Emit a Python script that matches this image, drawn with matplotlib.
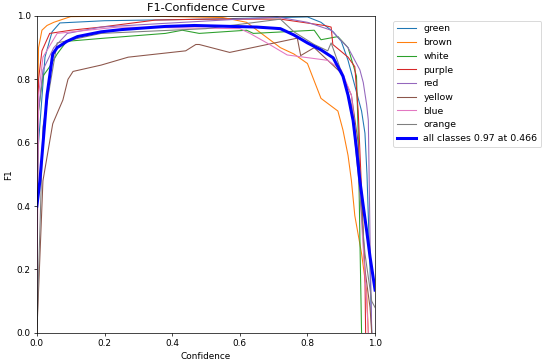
import matplotlib
matplotlib.use("Agg")
import matplotlib.pyplot as plt

NAMES = ["green", "brown", "white", "purple", "red", "yellow", "blue", "orange"]

# confidence / F1 pairs, one pair of lists per class
green_x = [0, 0.005, 0.024, 0.045, 0.068, 0.2, 0.5, 0.8, 0.84, 0.876, 0.9, 0.92, 0.94, 0.96, 0.97, 0.976, 0.985, 0.99]
green_y = [0.45, 0.6, 0.87, 0.95, 0.978, 0.985, 0.99, 0.997, 0.98, 0.95, 0.92, 0.86, 0.78, 0.70, 0.63, 0.5, 0.2, 0.0]

brown_x = [0, 0.005, 0.015, 0.03, 0.05, 0.1, 0.3, 0.55, 0.62, 0.67, 0.72, 0.76, 0.80, 0.84, 0.89, 0.905, 0.92, 0.93, 0.94, 0.96, 0.975, 0.98]
brown_y = [0.55, 0.9, 0.955, 0.97, 0.98, 0.998, 1.0, 0.995, 0.98, 0.94, 0.90, 0.88, 0.85, 0.74, 0.70, 0.64, 0.56, 0.48, 0.37, 0.25, 0.13, 0.0]

white_x = [0, 0.005, 0.018, 0.038, 0.06, 0.088, 0.2, 0.38, 0.43, 0.48, 0.62, 0.64, 0.82, 0.84, 0.89, 0.92, 0.945, 0.95, 0.955, 0.96]
white_y = [0.3, 0.7, 0.81, 0.84, 0.88, 0.92, 0.93, 0.945, 0.955, 0.945, 0.955, 0.945, 0.955, 0.925, 0.935, 0.90, 0.81, 0.63, 0.3, 0.0]

purple_x = [0, 0.005, 0.015, 0.038, 0.1, 0.19, 0.35, 0.5, 0.72, 0.85, 0.87, 0.875, 0.92, 0.94, 0.95, 0.96, 0.97, 0.972]
purple_y = [0.4, 0.8, 0.89, 0.945, 0.955, 0.965, 0.987, 0.99, 0.99, 0.97, 0.965, 0.91, 0.87, 0.84, 0.7, 0.45, 0.18, 0.0]

red_x = [0, 0.005, 0.018, 0.05, 0.09, 0.19, 0.35, 0.6, 0.71, 0.8, 0.87, 0.92, 0.955, 0.965, 0.975, 0.98, 0.985, 0.99]
red_y = [0.3, 0.7, 0.83, 0.9, 0.945, 0.965, 0.975, 0.99, 0.997, 0.98, 0.955, 0.9, 0.83, 0.79, 0.72, 0.67, 0.3, 0.0]

yellow_x = [0, 0.018, 0.047, 0.077, 0.092, 0.107, 0.19, 0.27, 0.44, 0.47, 0.48, 0.57, 0.77, 0.78, 0.82, 0.87, 0.90, 0.93, 0.95, 0.96, 0.97, 0.985, 0.99]
yellow_y = [0.0, 0.48, 0.66, 0.735, 0.80, 0.825, 0.845, 0.87, 0.89, 0.91, 0.91, 0.885, 0.93, 0.875, 0.90, 0.85, 0.82, 0.75, 0.6, 0.4, 0.2, 0.08, 0.0]

blue_x = [0, 0.005, 0.018, 0.06, 0.24, 0.6, 0.63, 0.68, 0.74, 0.86, 0.9, 0.93, 0.95, 0.96, 0.975, 0.98]
blue_y = [0.05, 0.75, 0.87, 0.945, 0.965, 0.96, 0.945, 0.915, 0.877, 0.86, 0.83, 0.75, 0.55, 0.35, 0.1, 0.0]

orange_x = [0, 0.018, 0.06, 0.19, 0.5, 0.72, 0.76, 0.82, 0.86, 0.87, 0.905, 0.93, 0.95, 0.97, 0.99, 1.0]
orange_y = [0.0, 0.65, 0.915, 0.945, 0.96, 0.99, 0.95, 0.91, 0.89, 0.915, 0.81, 0.72, 0.5, 0.25, 0.1, 0.08]

all_x = [0, 0.009, 0.02, 0.03, 0.047, 0.06, 0.089, 0.12, 0.19, 0.25, 0.38, 0.466, 0.65, 0.72, 0.76, 0.80,
         0.84, 0.876, 0.905, 0.92, 0.935, 0.945, 0.955, 0.965, 0.976, 0.985, 1.0]
all_y = [0.4, 0.48, 0.62, 0.75, 0.88, 0.90, 0.92, 0.935, 0.95, 0.957, 0.967, 0.97, 0.965, 0.96, 0.94, 0.915,
         0.893, 0.868, 0.81, 0.75, 0.67, 0.58, 0.48, 0.4, 0.315, 0.24, 0.135]
ALL_LABEL = "all classes 0.97 at 0.466"

curves = [(green_x, green_y), (brown_x, brown_y), (white_x, white_y), (purple_x, purple_y),
          (red_x, red_y), (yellow_x, yellow_y), (blue_x, blue_y), (orange_x, orange_y)]

dpi = 64
fig = plt.figure(figsize=(550 / dpi, 363 / dpi), dpi=dpi)
ax = fig.add_axes([0.067, 0.083, 0.615, 0.873])

for name, (xs, ys) in zip(NAMES, curves):
    ax.plot(xs, ys, linewidth=1.2, label=name)
ax.plot(all_x, all_y, linewidth=3.4, color="blue", label=ALL_LABEL)

ax.set_xlabel("Confidence")
ax.set_ylabel("F1")
ax.set_xlim(0, 1)
ax.set_ylim(0, 1)
ax.set_title("F1-Confidence Curve", fontsize=12.7)
ax.legend(bbox_to_anchor=(1.04, 1), loc="upper left", fontsize=10.6)

fig.savefig("out.png", dpi=dpi)
